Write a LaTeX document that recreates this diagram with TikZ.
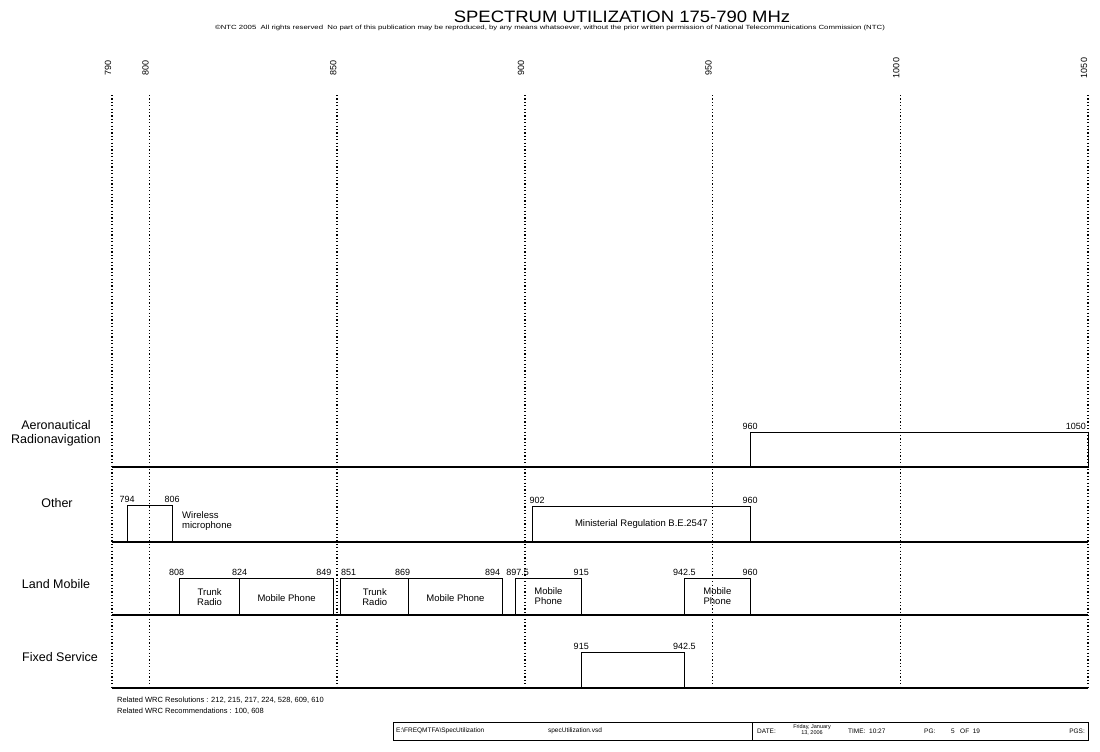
\documentclass[tikz,border=0pt]{standalone}
\usepackage{fontspec}
\setmainfont{Liberation Sans}
\usetikzlibrary{positioning}

% frequency (MHz) -> x position
\newcommand{\fq}[1]{112+(#1-790)*3.754}

\tikzset{
  band/.style={draw, line width=1pt},
  rowline/.style={line width=1.8pt},
  grid/.style={line width=1.5pt, dash pattern=on 1.2pt off 2.2pt},
  freq/.style={font=\fontsize{9}{10}\selectfont, inner sep=2pt},
  inlabel/.style={font=\fontsize{9.5}{10.5}\selectfont, align=center, inner sep=0pt},
  rowname/.style={font=\fontsize{12.5}{14}\selectfont, align=center},
  note/.style={font=\fontsize{7.5}{9}\selectfont, inner sep=0pt, anchor=west},
  foot/.style={font=\fontsize{6.5}{7}\selectfont, inner sep=0pt},
}

\begin{document}
\begin{tikzpicture}[x=1pt, y=-1pt]
    \useasboundingbox (0,0) rectangle (1100,752);

    % Heading
    \node[font=\fontsize{16.5}{18}\selectfont] (title) at (622,17) {\scalebox{1.12}[1]{SPECTRUM UTILIZATION 175-790 MHz}};
    \node[font=\fontsize{6}{7}\selectfont] (copyright) at (550,28) {\scalebox{1.3}[1]{\textcopyright NTC 2005\ \ All rights reserved\ \ No part of this publication may be reproduced, by any means whatsoever, without the prior written permission of National Telecommunications Commission (NTC)}};

    % Frequency scale with dotted grid lines
    \foreach \f in {790,800,850,900,950,1000,1050} {
        \node[freq, rotate=90] (t\f) at ({\fq{\f}-4},68) {\f};
        \draw[grid] ({\fq{\f}},95) -- ({\fq{\f}},688);
    }

    % Service rows
    \node[rowname] (aero) at (56,433) {Aeronautical\\Radionavigation};
    \node[rowname] (other) at (57,503) {Other};
    \node[rowname] (land) at (56,584) {Land Mobile};
    \node[rowname] (fixed) at (60,657) {Fixed Service};
    \foreach \y in {467,542,615,688}
        \draw[rowline] (112,\y) -- (1088,\y);

    % Aeronautical Radionavigation
    \draw[band] ({\fq{960}},432) rectangle ({\fq{1050}},467);
    \node[freq, anchor=south] (a960) at ({\fq{960}},432) {960};
    \node[freq, anchor=south east] (a1050) at ({\fq{1050}},432) {1050};

    % Other
    \draw[band] ({\fq{794}},505) rectangle ({\fq{806}},542);
    \node[freq, anchor=south] (o794) at ({\fq{794}},505) {794};
    \node[freq, anchor=south] (o806) at ({\fq{806}},505) {806};
    \node[inlabel, align=left, anchor=west] (wmic) at (182,521) {Wireless\\microphone};
    \draw[band] ({\fq{902}},506) rectangle ({\fq{960}},542);
    \node[freq, anchor=south west, inner xsep=0pt] (o902) at ({\fq{902}-3},506) {902};
    \node[freq, anchor=south] (o960) at ({\fq{960}},506) {960};
    \node[inlabel] (minreg) at ({(\fq{902}+\fq{960})/2},524) {Ministerial Regulation B.E.2547};

    % Land Mobile
    \draw[band] ({\fq{808}},578) rectangle ({\fq{824}},615);
    \draw[band] ({\fq{824}},578) rectangle ({\fq{849}},615);
    \draw[band] ({\fq{851}},578) rectangle ({\fq{869}},615);
    \draw[band] ({\fq{869}},578) rectangle ({\fq{894}},615);
    \draw[band] ({\fq{897.5}},578) rectangle ({\fq{915}},615);
    \draw[band] ({\fq{942.5}},578) rectangle ({\fq{960}},615);
    \node[freq, anchor=south] (l808) at ({\fq{808}-3},578) {808};
    \node[freq, anchor=south] (l824) at ({\fq{824}},578) {824};
    \node[freq, anchor=south east] (l849) at ({\fq{849}},578) {849};
    \node[freq, anchor=south west] (l851) at ({\fq{851}-2},578) {851};
    \node[freq, anchor=south] (l869) at ({\fq{869}-6},578) {869};
    \node[freq, anchor=south east] (l894) at ({\fq{894}},578) {894};
    \node[freq, anchor=south] (l897) at ({\fq{897.5}+2},578) {897.5};
    \node[freq, anchor=south] (l915) at ({\fq{915}},578) {915};
    \node[freq, anchor=south] (l942) at ({\fq{942.5}},578) {942.5};
    \node[freq, anchor=south] (l960) at ({\fq{960}},578) {960};
    \node[inlabel] (trunk1) at ({(\fq{808}+\fq{824})/2},597) {Trunk\\Radio};
    \node[inlabel] (mob1) at ({(\fq{824}+\fq{849})/2},598) {Mobile Phone};
    \node[inlabel] (trunk2) at ({(\fq{851}+\fq{869})/2},597) {Trunk\\Radio};
    \node[inlabel] (mob2) at ({(\fq{869}+\fq{894})/2},598) {Mobile Phone};
    \node[inlabel] (mob3) at ({(\fq{897.5}+\fq{915})/2},596) {Mobile\\Phone};
    \node[inlabel] (mob4) at ({(\fq{942.5}+\fq{960})/2},596) {Mobile\\Phone};

    % Fixed Service
    \draw[band] ({\fq{915}},652) rectangle ({\fq{942.5}},688);
    \node[freq, anchor=south] (f915) at ({\fq{915}},652) {915};
    \node[freq, anchor=south] (f942) at ({\fq{942.5}},652) {942.5};

    % Notes
    \node[note] (res) at (117,700) {Related WRC Resolutions : 212, 215, 217, 224, 528, 609, 610};
    \node[note] (rec) at (117,711) {Related WRC Recommendations : 100, 608};

    % Title block
    \draw[line width=1pt] (393,722) rectangle (1088,740);
    \draw[line width=1pt] (752,722) -- (752,740);
    \node[foot, anchor=west] (path) at (396,731) {E:\textbackslash FREQMTFA\textbackslash SpecUtilization};
    \node[foot] (vsd) at (575,731) {specUtilization.vsd};
    \node[foot, anchor=west] (date) at (757,731) {DATE:};
    \node[foot, font=\fontsize{5.5}{6}\selectfont, align=center] (day) at (812,730) {Friday, January\\13, 2006};
    \node[foot, anchor=west] (time) at (848,731) {TIME:\ \ 10:27};
    \node[foot, anchor=west] (pg) at (924,731) {PG:};
    \node[foot, anchor=west] (pages) at (951,731) {5\ \ \ OF\ \ 19};
    \node[foot, anchor=east] (pgs) at (1085,731) {PGS:};
\end{tikzpicture}
\end{document}
